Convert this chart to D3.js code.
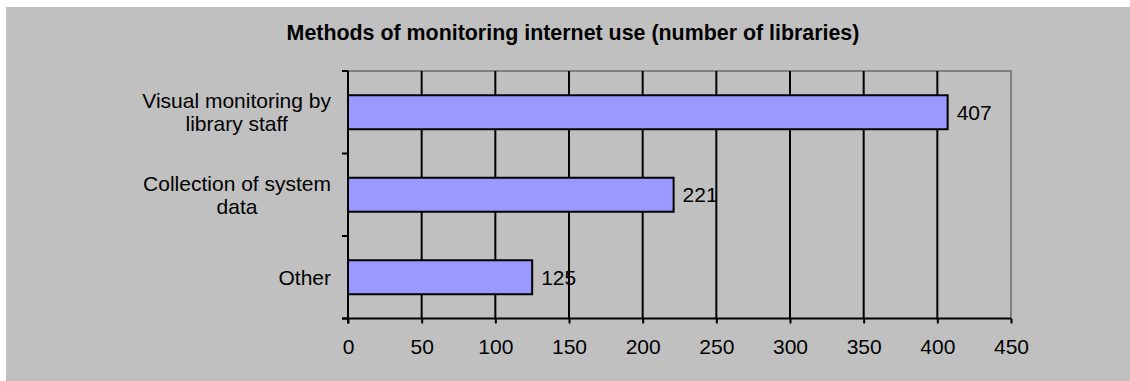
<!DOCTYPE html>
<html>
<head>
<meta charset="utf-8">
<script src="https://cdn.jsdelivr.net/npm/d3@7"></script>
<style>
  html, body { margin: 0; padding: 0; background: #ffffff; }
  svg { display: block; }
  text { font-family: "Liberation Sans", Arial, sans-serif; fill: #000; }
</style>
</head>
<body>
<svg id="chart" width="1130" height="381"></svg>
<script>
// Chart data
const categories = ["Visual monitoring by library staff", "Collection of system data", "Other"];
const categoryLines = [["Visual monitoring by", "library staff"], ["Collection of system", "data"], ["Other"]];
const libraries = [407, 221, 125];
const xTicks = [0, 50, 100, 150, 200, 250, 300, 350, 400, 450];
const chartTitle = "Methods of monitoring internet use (number of libraries)";

const svg = d3.select("#chart");
const fontSize = 21;

// Chart area background
svg.append("rect")
  .attr("x", 6).attr("y", 7)
  .attr("width", 1124).attr("height", 374)
  .attr("fill", "#c0c0c0");

const plot = { left: 348, right: 1011, top: 71, bottom: 318.5 };

const x = d3.scaleLinear().domain([0, 450]).range([plot.left, plot.right]);
const y = d3.scaleBand().domain(categories)
  .range([plot.top, plot.bottom])
  .paddingInner(0.588).paddingOuter(0.294);

// Title
svg.append("text")
  .attr("x", 573).attr("y", 40)
  .attr("text-anchor", "middle")
  .attr("font-size", 21.4).attr("font-weight", "bold")
  .text(chartTitle);

// Plot area border (top and right)
svg.append("path")
  .attr("d", `M${plot.left},${plot.top}H${plot.right}V${plot.bottom}`)
  .attr("fill", "none").attr("stroke", "#808080").attr("stroke-width", 2);

// Vertical gridlines
svg.append("g")
  .selectAll("line")
  .data(xTicks.filter(t => t > 0 && t < 450))
  .join("line")
  .attr("x1", d => x(d)).attr("x2", d => x(d))
  .attr("y1", plot.top).attr("y2", plot.bottom)
  .attr("stroke", "#000").attr("stroke-width", 2);

// Bars
svg.append("g")
  .selectAll("rect")
  .data(categories)
  .join("rect")
  .attr("x", x(0))
  .attr("y", d => y(d))
  .attr("width", (d, i) => x(libraries[i]) - x(0))
  .attr("height", y.bandwidth())
  .attr("fill", "#9999ff")
  .attr("stroke", "#000").attr("stroke-width", 2);

// Value labels
svg.append("g")
  .selectAll("text")
  .data(categories)
  .join("text")
  .attr("x", (d, i) => x(libraries[i]) + 9)
  .attr("y", d => y(d) + y.bandwidth() / 2 + 7.5)
  .attr("font-size", fontSize)
  .text((d, i) => libraries[i]);

// X axis
const xAxis = d3.axisBottom(x).tickValues(xTicks).tickSize(5).tickPadding(16);
const gx = svg.append("g")
  .attr("transform", `translate(0,${plot.bottom})`)
  .call(xAxis);
gx.select(".domain")
  .attr("d", `M${plot.left - 6},0H${plot.right}`)
  .attr("stroke", "#000").attr("stroke-width", 2);
gx.selectAll(".tick line").attr("stroke", "#000").attr("stroke-width", 2);
gx.selectAll(".tick text")
  .attr("font-family", "Liberation Sans, Arial, sans-serif")
  .attr("font-size", fontSize).attr("fill", "#000");

// Y axis: ticks on category boundaries
const step = y.step();
const boundaries = d3.range(categories.length + 1).map(i => plot.top + i * step);
const gy = svg.append("g");
gy.append("line")
  .attr("x1", plot.left).attr("x2", plot.left)
  .attr("y1", plot.top).attr("y2", plot.bottom + 5)
  .attr("stroke", "#000").attr("stroke-width", 2);
gy.selectAll("line.tick")
  .data(boundaries)
  .join("line")
  .attr("class", "tick")
  .attr("x1", plot.left - 6).attr("x2", plot.left)
  .attr("y1", d => d).attr("y2", d => d)
  .attr("stroke", "#000").attr("stroke-width", 2);

// Category labels: wrapped lines centred within a right-aligned block
const labelRight = 331;
const lineGap = 23;
categories.forEach((c, i) => {
  const lines = categoryLines[i];
  const cy = y(c) + y.bandwidth() / 2;
  const g = svg.append("g");
  const texts = lines.map((ln, k) => g.append("text")
    .attr("font-size", fontSize)
    .attr("text-anchor", "middle")
    .attr("y", cy + 7.5 - (lines.length - 1) * lineGap / 2 + k * lineGap)
    .text(ln));
  const maxW = d3.max(texts, t => t.node().getComputedTextLength());
  texts.forEach(t => t.attr("x", labelRight - maxW / 2));
});
</script>
</body>
</html>
